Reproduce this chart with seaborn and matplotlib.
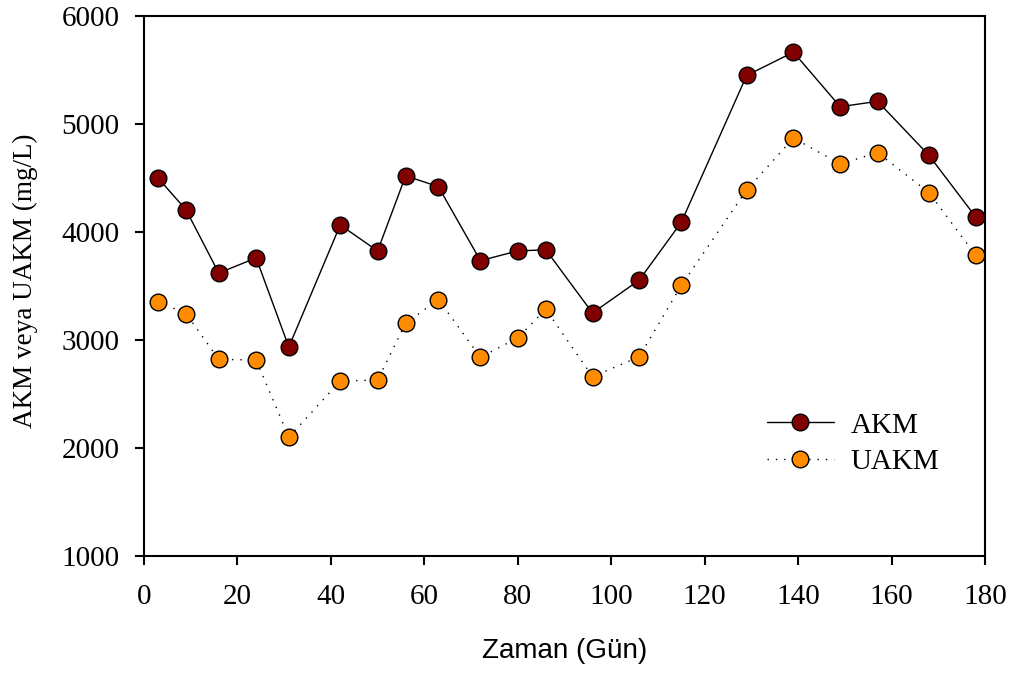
import matplotlib
matplotlib.use("Agg")
import matplotlib.pyplot as plt
import seaborn as sns
import pandas as pd

days = [3, 9, 16, 24, 31, 42, 50, 56, 63, 72, 80, 86, 96, 106, 115, 129, 139, 149, 157, 168, 178]
akm = [4500, 4205, 3620, 3760, 2935, 4065, 3825, 4520, 4420, 3735, 3825, 3835, 3250, 3555, 4090, 5450, 5665, 5160, 5210, 4710, 4140]
uakm = [3355, 3245, 2820, 2815, 2100, 2620, 2630, 3155, 3375, 2840, 3020, 3285, 2660, 2845, 3505, 4390, 4870, 4630, 4735, 4365, 3785]

df = pd.DataFrame({"day": days, "AKM": akm, "UAKM": uakm})

sns.set_theme(style="ticks")
plt.rcParams['font.family'] = ['Liberation Serif', 'DejaVu Serif']
plt.rcParams['text.color'] = 'black'
plt.rcParams['axes.labelcolor'] = 'black'

fig = plt.figure(figsize=(10.17, 6.75), dpi=100)
ax = fig.add_axes([144/1017, 1 - 556/675, (985-144)/1017, (556-16)/675])

sns.lineplot(data=df, x="day", y="AKM", ax=ax, color="black", lw=1.0, linestyle="-",
             marker="o", markersize=12, markerfacecolor="#800000", markeredgecolor="black",
             markeredgewidth=1.0, label="AKM")
sns.lineplot(data=df, x="day", y="UAKM", ax=ax, color="black", lw=1.0, linestyle=(0, (1, 5)),
             marker="o", markersize=12, markerfacecolor="#FF8C00", markeredgecolor="black",
             markeredgewidth=1.0, label="UAKM")

ax.set_xlim(0, 180)
ax.set_ylim(1000, 6000)
ax.set_xticks(range(0, 181, 20))
ax.set_yticks(range(1000, 6001, 1000))
for s in ax.spines.values():
    s.set_linewidth(1.5)
    s.set_color("black")
ax.tick_params(direction="out", length=6.5, width=1.5, labelsize=21, colors="black")
ax.tick_params(axis="x", pad=14)
ax.tick_params(axis="y", pad=11)

ax.set_xlabel("Zaman (Gün)", fontsize=20, family=["Liberation Sans", "DejaVu Sans"])
ax.set_ylabel("AKM veya UAKM (mg/L)", fontsize=19.5)
ax.xaxis.set_label_coords((565-144)/841, -(651-556)/540)
ax.yaxis.set_label_coords(-(144-25)/841, (556-281)/540)
ax.xaxis.label.set_va("center")
ax.yaxis.label.set_va("center")

leg = ax.legend(loc="upper left", bbox_to_anchor=(0.709, 0.315), frameon=False, fontsize=21,
                handlelength=2.3, handletextpad=0.58, labelspacing=0.35)

fig.savefig("out.png", dpi=100)
